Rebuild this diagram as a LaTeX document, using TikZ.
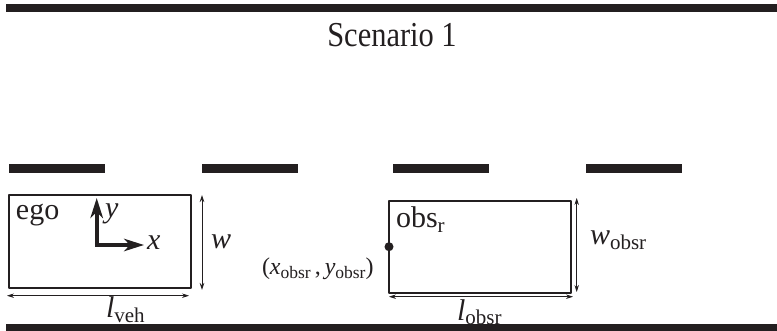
\documentclass[tikz,border=0pt]{standalone}
\usepackage{fontspec}
\setmainfont{Liberation Serif}
\usetikzlibrary{arrows.meta}
\definecolor{ink}{HTML}{231F20}
\newcommand{\subtext}[1]{{\fontsize{21}{24}\selectfont\raisebox{-5pt}{\upshape #1}}}
\newcommand{\subsmall}[1]{{\fontsize{17.5}{20}\selectfont\raisebox{-3.5pt}{\upshape #1}}}
\tikzset{
  x=1pt,y=-1pt,
  roadbar/.style={fill=ink,draw=none},
  carbox/.style={draw=ink,line width=2pt,line join=round,outer sep=0pt,inner sep=0pt},
  dimline/.style={draw=ink,line width=0.8pt,{Stealth[length=7pt,width=4.5pt]}-{Stealth[length=7pt,width=4.5pt]}},
  axisline/.style={draw=ink,line width=3.6pt,-{Stealth[length=20pt,width=12.5pt,inset=6pt]}},
  lab/.style={anchor=base west,inner sep=0pt,outer sep=0pt,text=ink,font=\fontsize{30}{36}\selectfont},
  smalllab/.style={lab,font=\fontsize{24}{28}\selectfont},
}
\begin{document}
\begin{tikzpicture}
\useasboundingbox (0,0) rectangle (777,331);
% road edges
\fill[roadbar] (6,4) rectangle (777,12);
\fill[roadbar] (6,324) rectangle (777,331);
% lane dashes
\fill[roadbar] (9,164) rectangle (105,173);
\fill[roadbar] (202,164) rectangle (298,173);
\fill[roadbar] (393,164) rectangle (489,173);
\fill[roadbar] (586,164) rectangle (682,173);
% title
\node[lab,anchor=base,font=\fontsize{35}{40}\selectfont] (title) at (392,47) {\scalebox{0.87}[1]{Scenario 1}};
% ego vehicle
\node[carbox,minimum width=182pt,minimum height=93pt,anchor=north west] (ego) at (8.5,195) {};
\coordinate (origin) at (96.7,245);
\coordinate (xtip) at (144,245);
\coordinate (ytip) at (96.7,198);
\coordinate (xstart) at (94.9,245);
\coordinate (ystart) at (96.7,246.8);
\draw[axisline] (xstart) -- (xtip);
\draw[axisline] (ystart) -- (ytip);
\node[lab] (egotxt) at (16,220) {ego};
\node[lab] (ylab) at (105,218) {\itshape y};
\node[lab] (xlab) at (147,250) {\itshape x};
\coordinate (wa) at (202,195);
\coordinate (wb) at (202,290);
\draw[dimline] (wa) -- (wb);
\node[lab] (wlab) at (211,249) {\itshape w};
\coordinate (la) at (7,295.7);
\coordinate (lb) at (189,295.7);
\draw[dimline] (la) -- (lb);
\node[lab] (llab) at (106,318) {\itshape l\subtext{veh}};
% obstacle
\node[carbox,minimum width=182pt,minimum height=92pt,anchor=north west] (obs) at (389,200.7) {};
\node[circle,fill=ink,minimum size=9pt,inner sep=0pt] (dot) at (obs.west) {};
\node[lab] (obstxt) at (396,228) {obs\subtext{r}};
\node[lab] (wobs) at (590,245) {\itshape w\subtext{obsr}};
\coordinate (wc) at (576.7,198);
\coordinate (wd) at (576.7,292);
\draw[dimline] (wc) -- (wd);
\coordinate (lc) at (389,296.7);
\coordinate (ld) at (573,296.7);
\draw[dimline] (lc) -- (ld);
\node[lab] (lobs) at (457,320) {\itshape l\subtext{obsr}};
\node[smalllab] (pos) at (262,275) {(\itshape x\subsmall{obsr}\,\upshape,\,\itshape y\subsmall{obsr}\upshape)};
\end{tikzpicture}
\end{document}
